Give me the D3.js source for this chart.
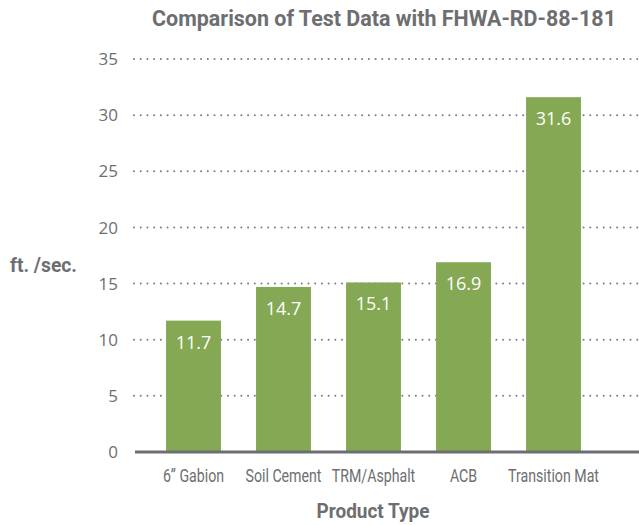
<!DOCTYPE html>
<html><head><meta charset="utf-8">
<script src="https://cdn.jsdelivr.net/npm/d3@7"></script>
<style>body{margin:0;background:#fff}</style>
</head><body>
<svg id="c" width="639" height="525"></svg>
<script>
const categories = ["6\u201D Gabion","Soil Cement","TRM/Asphalt","ACB","Transition Mat"];
const values = [11.7, 14.7, 15.1, 16.9, 31.6];
const valueLabels = ["11.7","14.7","15.1","16.9","31.6"];
const yTicks = [0,5,10,15,20,25,30,35];
const title = "Comparison of Test Data with FHWA-RD-88-181";
const yTitle = "ft. /sec.";
const xTitle = "Product Type";

const svg = d3.select("#c");
const gray = "#6d6e71", green = "#84a853";
const cond = "Roboto,'DejaVu Sans Condensed',sans-serif";
const body = "'Open Sans','Noto Sans',sans-serif";

const x = d3.scaleBand().domain(categories).range([148.5,598.5]).paddingInner(0.39).paddingOuter(0.195);
const y = d3.scaleLinear().domain([0,35]).range([452,59]);

// gridlines
svg.append("g").selectAll("line").data(yTicks.filter(d=>d>0)).join("line")
  .attr("x1",134).attr("x2",639).attr("y1",d=>y(d)).attr("y2",d=>y(d))
  .attr("stroke","#7a7b7e").attr("stroke-width",2).attr("stroke-linecap","round")
  .attr("stroke-dasharray","0.01,6.7");

// y tick labels
svg.append("g").selectAll("text").data(yTicks).join("text")
  .attr("x",118).attr("y",d=>y(d)).attr("dy","0.36em").attr("text-anchor","end")
  .attr("fill",gray).style("font-family",body).style("font-size","17px").text(d=>d);

// bars
svg.append("g").selectAll("rect").data(values).join("rect")
  .attr("x",(d,i)=>x(categories[i])).attr("width",x.bandwidth())
  .attr("y",d=>y(d)).attr("height",d=>y(0)-y(d)).attr("fill",green);

// baseline
svg.append("line").attr("x1",135).attr("x2",639).attr("y1",y(0)).attr("y2",y(0))
  .attr("stroke",gray).attr("stroke-width",3);

// value labels
svg.append("g").selectAll("text").data(values).join("text")
  .attr("x",(d,i)=>x(categories[i])+x.bandwidth()/2).attr("y",d=>y(d)+28)
  .attr("text-anchor","middle").attr("fill","#fff")
  .style("font-family",body).style("font-size","18px").text((d,i)=>valueLabels[i]);

// condensed text helper: horizontally squeeze to look like a condensed face
function condText(txt, cx, cy, size, weight, targetW, anchor){
  const g = svg.append("g");
  const t = g.append("text").attr("fill",gray).style("font-family",cond)
    .style("font-size",size+"px").style("font-weight",weight).text(txt);
  const w = t.node().getComputedTextLength();
  const s = targetW / w;
  t.attr("text-anchor",anchor||"middle");
  g.attr("transform",`translate(${cx},${cy}) scale(${s},1)`);
  return s;
}

// x labels: scale from widest label
const probe = svg.append("text").style("font-family",cond).style("font-size","18px").text(categories[4]);
const sx = 91 / probe.node().getComputedTextLength();
probe.remove();
const xl = svg.append("g");
categories.forEach(c=>{
  xl.append("g").attr("transform",`translate(${x(c)+x.bandwidth()/2},482) scale(${sx},1)`)
    .append("text").attr("text-anchor","middle").attr("fill",gray)
    .style("font-family",cond).style("font-size","18px").text(c);
});

// titles
condText(title, 384, 26, 22, "bold", 464);
condText(yTitle, 10, 272, 21, "bold", 67, "start");
condText(xTitle, 373, 518, 21, "bold", 113);
</script>
</body></html>
